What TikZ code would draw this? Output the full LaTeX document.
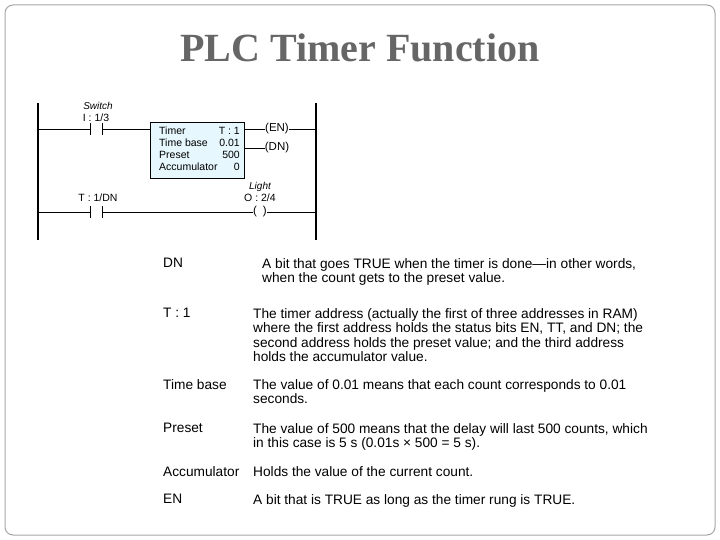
\documentclass[tikz,border=0pt]{standalone}
\usepackage{fontspec}
\setmainfont{Liberation Serif}
\setsansfont{Liberation Sans}
\usetikzlibrary{positioning}
\tikzset{>=latex}
\tikzset{
  rung/.style={line width=0.8pt},
  rail/.style={line width=2pt},
  lbl/.style={font=\sffamily\fontsize{10.5}{12}\selectfont, inner sep=0pt},
  term/.style={font=\sffamily\fontsize{13.7}{14.5}\selectfont, anchor=north west, inner sep=0pt},
  expl/.style={font=\sffamily\fontsize{13.7}{14.5}\selectfont, anchor=north west, inner sep=0pt, align=left},
}
\begin{document}
\begin{tikzpicture}[x=1pt,y=-1pt]
    \useasboundingbox (0,0) rectangle (720,540);
    \draw[gray!70, line width=1pt, rounded corners=8pt] (5,5) rectangle (715,535);
    \node[font=\bfseries\fontsize{40}{44}\selectfont, text=black!60] (title) at (360,48) {PLC Timer Function};

    % rails
    \coordinate (lt) at (38,103); \coordinate (lb) at (38,240);
    \coordinate (rt) at (316,103); \coordinate (rb) at (316,240);
    \draw[rail] (lt) -- (lb);
    \draw[rail] (rt) -- (rb);

    % rung 1
    \draw[rung] (38,129) -- (90,129) (90,123) -- (90,135);
    \draw[rung] (102,123) -- (102,135) (102,129) -- (150,129);
    \node[lbl, font=\sffamily\itshape\fontsize{10}{11}\selectfont] (sw) at (98,106) {Switch};
    \node[lbl] (swa) at (96,118) {I : 1/3};
    \node[draw, fill=cyan!10, line width=0.6pt, minimum width=94pt, minimum height=56pt, anchor=north west] (timer) at (150,122) {};
    \node[lbl, anchor=north west] (t1) at (159,127) {Timer};
    \node[lbl, anchor=north west] (t2) at (159,139) {Time base};
    \node[lbl, anchor=north west] (t3) at (159,151) {Preset};
    \node[lbl, anchor=north west] (t4) at (159,163) {Accumulator};
    \node[lbl, anchor=north east] (v1) at (240,127) {T : 1};
    \node[lbl, anchor=north east] (v2) at (240,139) {0.01};
    \node[lbl, anchor=north east] (v3) at (240,151) {500};
    \node[lbl, anchor=north east] (v4) at (240,163) {0};
    \node[lbl, font=\sffamily\fontsize{11.5}{12}\selectfont] (en) at (277,129) {(EN)};
    \node[lbl, font=\sffamily\fontsize{11.5}{12}\selectfont] (dn) at (277,148) {(DN)};
    \draw[rung] (244,129) -- (en.west) (en.east) -- (316,129);
    \draw[rung] (244,148) -- (dn.west);

    % rung 2
    \draw[rung] (38,212) -- (90,212) (90,206) -- (90,218);
    \draw[rung] (102,206) -- (102,218);
    \node[lbl] (tdn) at (98,198) {T : 1/DN};
    \node[lbl, font=\sffamily\itshape\fontsize{10}{11}\selectfont] (lt2) at (260,187) {Light};
    \node[lbl] (o24) at (260,198) {O : 2/4};
    \node[lbl, font=\sffamily\fontsize{11.5}{12}\selectfont] (lamp) at (260,212) {(\hspace{6pt})};
    \draw[rung] (102,212) -- (lamp.west) (lamp.east) -- (316,212);

    % explanation table
    \node[term] (k1) at (163,258) {DN};
    \node[expl] (d1) at (262,258) {A bit that goes TRUE when the timer is done---in other words,\\when the count gets to the preset value.};
    \node[term] (k2) at (163,308) {T : 1};
    \node[expl] (d2) at (253,308) {The timer address (actually the first of three addresses in RAM)\\where the first address holds the status bits EN, TT, and DN; the\\second address holds the preset value; and the third address\\holds the accumulator value.};
    \node[term] (k3) at (163,379) {Time base};
    \node[expl] (d3) at (253,379) {The value of 0.01 means that each count corresponds to 0.01\\seconds.};
    \node[term] (k4) at (163,423) {Preset};
    \node[expl] (d4) at (253,423) {The value of 500 means that the delay will last 500 counts, which\\in this case is 5 s (0.01s × 500 = 5 s).};
    \node[term] (k5) at (163,466) {Accumulator};
    \node[expl] (d5) at (253,466) {Holds the value of the current count.};
    \node[term] (k6) at (163,494) {EN};
    \node[expl] (d6) at (253,494) {A bit that is TRUE as long as the timer rung is TRUE.};
\end{tikzpicture}
\end{document}
